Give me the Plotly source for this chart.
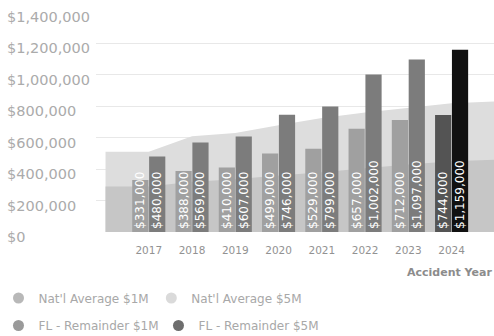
import plotly.graph_objects as go

# ---- data ----
years = [2017, 2018, 2019, 2020, 2021, 2022, 2023, 2024]
fl_1m = [331000, 388000, 410000, 499000, 529000, 657000, 712000, 744000]
fl_5m = [480000, 569000, 607000, 746000, 799000, 1002000, 1097000, 1159000]

avg_years = [2016, 2017, 2018, 2019, 2020, 2021, 2022, 2023, 2024, 2025]
natl_1m = [290000, 290000, 320000, 335000, 360000, 380000, 405000, 430000, 450000, 460000]
natl_5m = [510000, 510000, 610000, 630000, 680000, 725000, 760000, 790000, 820000, 830000]

y_ticks = [0, 200000, 400000, 600000, 800000, 1000000, 1200000, 1400000]
y_tick_labels = ["$0", "$200,000", "$400,000", "$600,000", "$800,000",
                 "$1,000,000", "$1,200,000", "$1,400,000"]

FONT = "DejaVu Sans"
c_natl1, c_natl5 = "#c6c6c6", "#dddddd"
c_fl1, c_fl5 = "#a0a0a0", "#7c7c7c"
c_fl1_hi, c_fl5_hi = "#545454", "#111111"

fig = go.Figure()

# areas (main subplot, drawn underneath)
fig.add_trace(go.Scatter(x=avg_years, y=natl_5m, mode="lines", line=dict(width=0, color=c_natl5),
                         fill="tozeroy", fillcolor=c_natl5, showlegend=False, hoverinfo="skip"))
fig.add_trace(go.Scatter(x=avg_years, y=natl_1m, mode="lines", line=dict(width=0, color=c_natl1),
                         fill="tozeroy", fillcolor=c_natl1, showlegend=False, hoverinfo="skip"))

# bars (overlay subplot, drawn on top)
def money(v):
    return "${:,}".format(v)

fig.add_trace(go.Bar(x=years, y=fl_1m, xaxis="x2", yaxis="y2",
                     marker=dict(color=[c_fl1_hi if yr == 2024 else c_fl1 for yr in years], line=dict(width=0)),
                     text=[money(v) for v in fl_1m], textposition="inside", insidetextanchor="start",
                     textangle=-90, constraintext="none",
                     textfont=dict(family=FONT, size=12, color="white"), showlegend=False))
fig.add_trace(go.Bar(x=years, y=fl_5m, xaxis="x2", yaxis="y2",
                     marker=dict(color=[c_fl5_hi if yr == 2024 else c_fl5 for yr in years], line=dict(width=0)),
                     text=[money(v) for v in fl_5m], textposition="inside", insidetextanchor="start",
                     textangle=-90, constraintext="none",
                     textfont=dict(family=FONT, size=12, color="white"), showlegend=False))

# legend entries (circles), one legend box each
legend_items = [("Nat'l Average $1M", "#b8b8b8", "legend", -0.245, -0.30),
                ("Nat'l Average $5M", "#dadada", "legend2", 0.139, -0.30),
                ("FL - Remainder $1M", "#9a9a9a", "legend3", -0.245, -0.425),
                ("FL - Remainder $5M", "#6e6e6e", "legend4", 0.157, -0.425)]
legend_layout = {}
for name, col, lg, lx, ly in legend_items:
    fig.add_trace(go.Scatter(x=[None], y=[None], mode="markers", name=name, legend=lg,
                             marker=dict(symbol="circle", size=11, color=col)))
    legend_layout[lg] = dict(orientation="h", x=lx, y=ly, xanchor="left", yanchor="middle",
                             font=dict(family=FONT, size=12, color="#a8a8a8"),
                             itemclick=False, bgcolor="rgba(0,0,0,0)")

xr = [2015.78, 2024.98]
yr_ = [0, 1400000]
fig.update_layout(
    width=494, height=336,
    margin=dict(l=96, r=0, t=12, b=104, autoexpand=False),
    paper_bgcolor="white", plot_bgcolor="white",
    font=dict(family=FONT, color="#9a9a9a"),
    barmode="group", bargap=0.22, bargroupgap=0.04,
    xaxis=dict(range=xr, showgrid=False, zeroline=False, showline=False,
               tickmode="array", tickvals=years, ticktext=[str(y) for y in years],
               tickfont=dict(family=FONT, size=10.5, color="#929292"),
               ticks="", ticklabelstandoff=10),
    yaxis=dict(range=yr_, tickvals=y_ticks, showticklabels=False, gridcolor="#e8e8e8",
               gridwidth=1, zeroline=False, showline=False),
    xaxis2=dict(range=xr, overlaying="x", visible=False),
    yaxis2=dict(range=yr_, overlaying="y", visible=False),
    **legend_layout,
)

# left-aligned y tick labels
for v, lab in zip(y_ticks, y_tick_labels):
    fig.add_annotation(x=0, xref="paper", xshift=-91, xanchor="left", y=v, yref="y",
                       yshift=-5, yanchor="middle", text=lab, showarrow=False,
                       font=dict(family=FONT, size=14.5, color="#ababab"))

fig.add_annotation(x=1, xref="paper", xanchor="right", y=0, yref="paper", yshift=-40,
                   yanchor="middle", text="<b>Accident Year</b>", showarrow=False,
                   font=dict(family=FONT, size=11, color="#8c8c8c"))

fig.write_html("out.html", config={"displayModeBar": False},
               post_script="document.body.style.margin='0';")
